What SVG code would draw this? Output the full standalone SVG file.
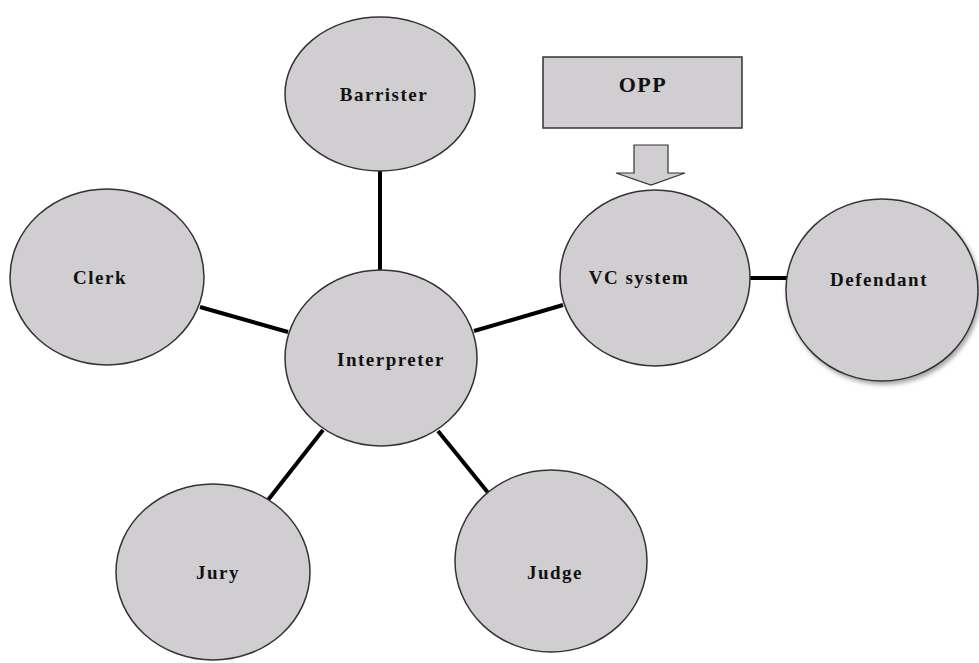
<svg xmlns="http://www.w3.org/2000/svg" width="979" height="663" viewBox="0 0 979 663">
<defs>
<filter id="sh" x="-10%" y="-10%" width="130%" height="130%">
<feDropShadow dx="2" dy="3" stdDeviation="2" flood-color="#000" flood-opacity="0.35"/>
</filter>
</defs>
<style>
.n{fill:#d0ced0;stroke:#333;stroke-width:1.5}
.t{font-family:"Liberation Serif",serif;font-weight:bold;font-size:19px;letter-spacing:1.5px;fill:#111;text-anchor:middle;dominant-baseline:central}
.c{stroke:#000;stroke-width:4;fill:none}
</style>
<rect width="979" height="663" fill="#fff"/>
<g id="connectors">
<line class="c" x1="380" y1="170" x2="380" y2="271"/>
<line class="c" x1="200" y1="307" x2="288" y2="332"/>
<line class="c" x1="474" y1="331" x2="563" y2="305"/>
<line class="c" x1="750" y1="278" x2="788" y2="278"/>
<line class="c" x1="323" y1="430" x2="268" y2="500"/>
<line class="c" x1="438" y1="431" x2="494" y2="500"/>
</g>
<g id="opp">
<rect class="n" x="543" y="57" width="199" height="71"/>
<text class="t" x="643" y="84" style="font-size:22px">OPP</text>
</g>
<g id="arrow">
<polygon class="n" points="634,145 668,145 668,173 685,173 651,185 616,173 634,173" style="stroke-width:1.2"/>
</g>
<g id="barrister">
<ellipse class="n" cx="380" cy="94" rx="95" ry="77"/>
<text class="t" x="384" y="94">Barrister</text>
</g>
<g id="clerk">
<ellipse class="n" cx="107" cy="277" rx="97" ry="88"/>
<text class="t" x="100" y="277">Clerk</text>
</g>
<g id="interpreter">
<ellipse class="n" cx="381" cy="358" rx="96" ry="88"/>
<text class="t" x="391" y="359">Interpreter</text>
</g>
<g id="vc">
<ellipse class="n" cx="655" cy="278" rx="95" ry="88"/>
<text class="t" x="639" y="277">VC system</text>
</g>
<g id="defendant">
<ellipse class="n" cx="882" cy="290" rx="96" ry="91" filter="url(#sh)"/>
<text class="t" x="879" y="279">Defendant</text>
</g>
<g id="jury">
<ellipse class="n" cx="213" cy="572" rx="97" ry="88"/>
<text class="t" x="218" y="572">Jury</text>
</g>
<g id="judge">
<ellipse class="n" cx="551" cy="561" rx="96" ry="91"/>
<text class="t" x="555" y="572">Judge</text>
</g>
</svg>
